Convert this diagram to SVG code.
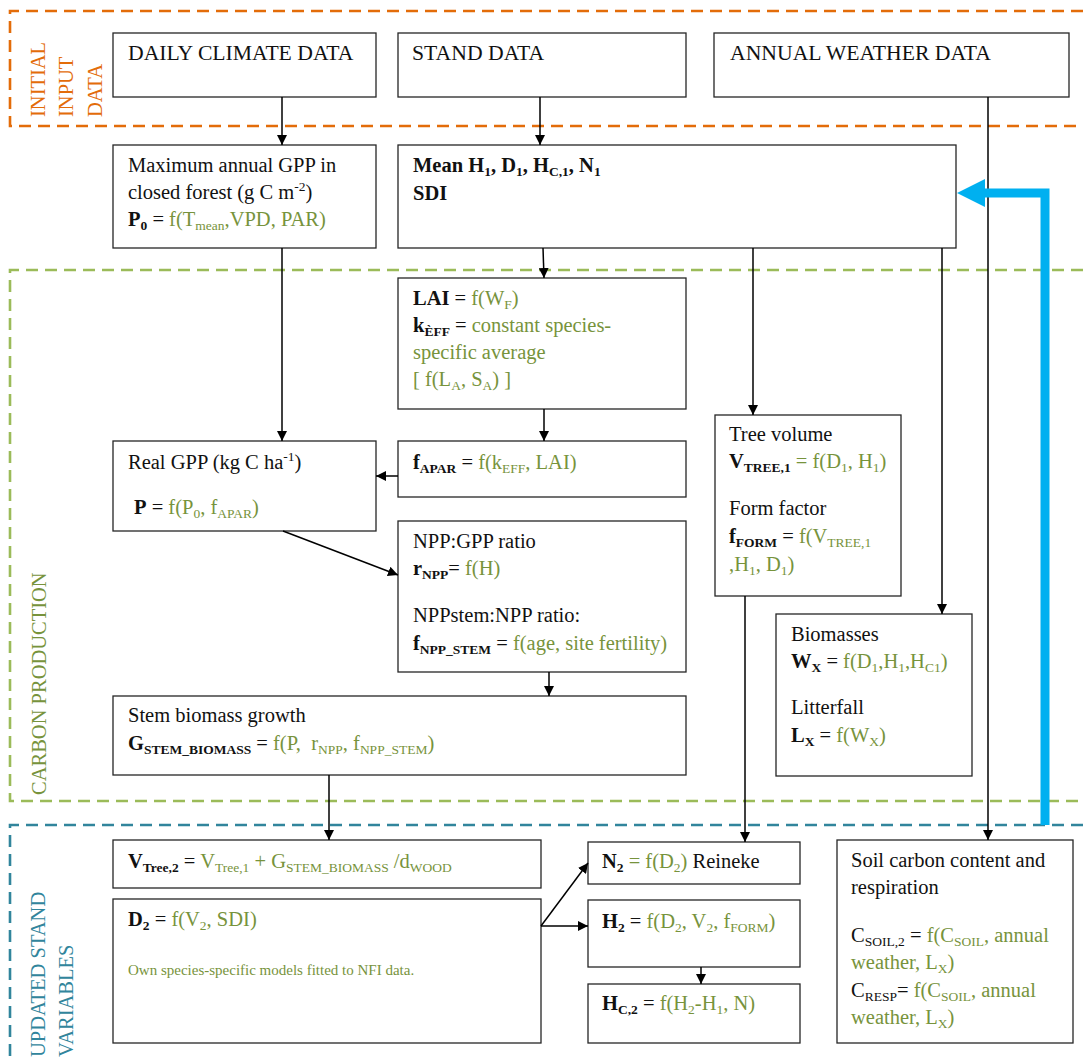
<svg xmlns="http://www.w3.org/2000/svg" width="1083" height="1063" viewBox="0 0 1083 1063">
<style>
.box{fill:#fff;stroke:#262626;stroke-width:1.3}
.t{font-family:"Liberation Serif","Times New Roman",serif;font-size:20.5px;fill:#111;white-space:pre}
.big{font-size:21.7px}
.g{fill:#77933C}
.b{font-weight:bold}
.sb{font-size:13.5px;baseline-shift:-4px}
.sp{font-size:13.5px;baseline-shift:8px}
.small{font-size:15px}
.conn{stroke:#000;stroke-width:1.5;fill:none;marker-end:url(#ah)}
.zone{fill:none;stroke-width:2.6;stroke-dasharray:12 7}
.lab{font-family:"Liberation Serif","Times New Roman",serif;font-size:20.5px}
</style>
<defs>
<marker id="ah" viewBox="0 0 10 10" refX="10" refY="5" markerWidth="10" markerHeight="10" markerUnits="userSpaceOnUse" orient="auto">
<path d="M0,0 L10,5 L0,10 z" fill="#000"/>
</marker>
</defs>
<rect width="1083" height="1063" fill="#fff"/>

<g id="zones">
<path class="zone" stroke="#E36C09" d="M1083,11 H10 V126 H1083"/>
<path class="zone" stroke="#9BBB59" d="M1083,270 H10 V801 H1083"/>
<path class="zone" stroke="#31859C" d="M1083,825 H10 V1063"/>
<g class="lab" fill="#E36C09">
<text transform="translate(45,117) rotate(-90)">INITIAL</text>
<text transform="translate(73,117) rotate(-90)">INPUT</text>
<text transform="translate(102,117) rotate(-90)">DATA</text>
</g>
<text class="lab" fill="#77933C" transform="translate(46,795) rotate(-90)">CARBON PRODUCTION</text>
<g class="lab" fill="#31859C">
<text transform="translate(45,1057) rotate(-90)">UPDATED STAND</text>
<text transform="translate(73,1057) rotate(-90)">VARIABLES</text>
</g>
</g>

<g id="daily"><rect class="box" x="113" y="33" width="263" height="64"/><text class="t big" x="128" y="60">DAILY CLIMATE DATA</text></g>
<g id="stand"><rect class="box" x="398" y="33" width="288" height="64"/><text class="t big" x="412" y="60">STAND DATA</text></g>
<g id="annual"><rect class="box" x="714" y="33" width="355" height="64"/><text class="t big" x="730" y="60">ANNUAL WEATHER DATA</text></g>

<g id="maxgpp"><rect class="box" x="113" y="145" width="263" height="103"/>
<text class="t" x="128" y="172">Maximum annual GPP in</text>
<text class="t" x="128" y="199">closed forest (g C m<tspan class="sp">-2</tspan>)</text>
<text class="t" x="128" y="226"><tspan class="b">P<tspan class="sb">0</tspan></tspan> = <tspan class="g">f(T<tspan class="sb">mean</tspan>,VPD, PAR)</tspan></text>
</g>

<g id="mean"><rect class="box" x="398" y="145" width="558" height="103"/>
<text class="t b" x="413" y="172">Mean H<tspan class="sb">1</tspan>, D<tspan class="sb">1</tspan>, H<tspan class="sb">C,1</tspan>, N<tspan class="sb">1</tspan></text>
<text class="t b" x="413" y="200">SDI</text>
</g>

<g id="lai"><rect class="box" x="398" y="278" width="288" height="131"/>
<text class="t" x="413" y="305"><tspan class="b">LAI</tspan> = <tspan class="g">f(W<tspan class="sb">F</tspan>)</tspan></text>
<text class="t" x="413" y="332"><tspan class="b">k<tspan class="sb">ÈFF</tspan></tspan> = <tspan class="g">constant species-</tspan></text>
<text class="t g" x="413" y="359">specific average</text>
<text class="t g" x="413" y="386">[ f(L<tspan class="sb">A</tspan>, S<tspan class="sb">A</tspan>) ]</text>
</g>

<g id="treevolume"><rect class="box" x="715" y="415" width="186" height="181"/>
<text class="t" x="729" y="441">Tree volume</text>
<text class="t" x="729" y="468"><tspan class="b">V<tspan class="sb">TREE,1</tspan></tspan><tspan class="g"> = f(D<tspan class="sb">1</tspan>, H<tspan class="sb">1</tspan>)</tspan></text>
<text class="t" x="729" y="515">Form factor</text>
<text class="t" x="729" y="543"><tspan class="b">f<tspan class="sb">FORM</tspan></tspan> = <tspan class="g">f(V<tspan class="sb">TREE,1</tspan></tspan></text>
<text class="t g" x="729" y="571">,H<tspan class="sb">1</tspan>, D<tspan class="sb">1</tspan>)</text>
</g>

<g id="realgpp"><rect class="box" x="113" y="441" width="263" height="90"/>
<text class="t" x="128" y="469">Real GPP (kg C ha<tspan class="sp">-1</tspan>)</text>
<text class="t" x="134" y="514"><tspan class="b">P</tspan> = <tspan class="g">f(P<tspan class="sb">0</tspan>, f<tspan class="sb">APAR</tspan>)</tspan></text>
</g>

<g id="fapar"><rect class="box" x="398" y="441" width="288" height="56"/>
<text class="t" x="413" y="469"><tspan class="b">f<tspan class="sb">APAR</tspan></tspan> = <tspan class="g">f(k<tspan class="sb">EFF</tspan>, LAI)</tspan></text>
</g>

<g id="npp"><rect class="box" x="398" y="521" width="288" height="151"/>
<text class="t" x="413" y="548">NPP:GPP ratio</text>
<text class="t" x="413" y="575"><tspan class="b">r<tspan class="sb">NPP</tspan></tspan>= <tspan class="g">f(H)</tspan></text>
<text class="t" x="413" y="622">NPPstem:NPP ratio:</text>
<text class="t" x="413" y="650"><tspan class="b">f<tspan class="sb">NPP_STEM</tspan></tspan> = <tspan class="g">f(age, site fertility)</tspan></text>
</g>

<g id="biomasses"><rect class="box" x="776" y="614" width="196" height="162"/>
<text class="t" x="791" y="641">Biomasses</text>
<text class="t" x="791" y="668"><tspan class="b">W<tspan class="sb">X</tspan></tspan> = <tspan class="g">f(D<tspan class="sb">1</tspan>,H<tspan class="sb">1</tspan>,H<tspan class="sb">C1</tspan>)</tspan></text>
<text class="t" x="791" y="714">Litterfall</text>
<text class="t" x="791" y="742"><tspan class="b">L<tspan class="sb">X</tspan></tspan> = <tspan class="g">f(W<tspan class="sb">X</tspan>)</tspan></text>
</g>

<g id="stem"><rect class="box" x="113" y="696" width="573" height="79"/>
<text class="t" x="128" y="722">Stem biomass growth</text>
<text class="t" x="128" y="750"><tspan class="b">G<tspan class="sb">STEM_BIOMASS</tspan></tspan> = <tspan class="g">f(P,  r<tspan class="sb">NPP</tspan>, f<tspan class="sb">NPP_STEM</tspan>)</tspan></text>
</g>

<g id="vtree2"><rect class="box" x="113" y="840" width="428" height="48"/>
<text class="t" x="128" y="868"><tspan class="b">V<tspan class="sb">Tree,2</tspan></tspan> = <tspan class="g">V<tspan class="sb">Tree,1</tspan> + G<tspan class="sb">STEM_BIOMASS</tspan> /d<tspan class="sb">WOOD</tspan></tspan></text>
</g>

<g id="d2"><rect class="box" x="113" y="899" width="428" height="144"/>
<text class="t" x="128" y="926"><tspan class="b">D<tspan class="sb">2</tspan></tspan> = <tspan class="g">f(V<tspan class="sb">2</tspan>, SDI)</tspan></text>
<text class="t g small" x="128" y="975">Own species-specific models fitted to NFI data.</text>
</g>

<g id="n2"><rect class="box" x="588" y="842" width="212" height="42"/>
<text class="t" x="602" y="868"><tspan class="b">N<tspan class="sb">2</tspan></tspan><tspan class="g"> = f(D<tspan class="sb">2</tspan>)</tspan> Reineke</text>
</g>

<g id="h2"><rect class="box" x="588" y="900" width="212" height="67"/>
<text class="t" x="602" y="928"><tspan class="b">H<tspan class="sb">2</tspan></tspan> = <tspan class="g">f(D<tspan class="sb">2</tspan>, V<tspan class="sb">2</tspan>, f<tspan class="sb">FORM</tspan>)</tspan></text>
</g>

<g id="hc2"><rect class="box" x="588" y="984" width="212" height="59"/>
<text class="t" x="602" y="1010"><tspan class="b">H<tspan class="sb">C,2</tspan></tspan> = <tspan class="g">f(H<tspan class="sb">2</tspan>-H<tspan class="sb">1</tspan>, N)</tspan></text>
</g>

<g id="soil"><rect class="box" x="837" y="840" width="236" height="203"/>
<text class="t" x="851" y="867">Soil carbon content and</text>
<text class="t" x="851" y="894">respiration</text>
<text class="t" x="851" y="942">C<tspan class="sb">SOIL,2</tspan> = <tspan class="g">f(C<tspan class="sb">SOIL</tspan>, annual</tspan></text>
<text class="t g" x="851" y="969">weather, L<tspan class="sb">X</tspan>)</text>
<text class="t" x="851" y="997">C<tspan class="sb">RESP</tspan>= <tspan class="g">f(C<tspan class="sb">SOIL</tspan>, annual</tspan></text>
<text class="t g" x="851" y="1024">weather, L<tspan class="sb">X</tspan>)</text>
</g>

<g id="connectors">
<line class="conn" x1="282" y1="97" x2="282" y2="145"/>
<line class="conn" x1="540" y1="97" x2="540" y2="145"/>
<line class="conn" x1="988" y1="97" x2="988" y2="840"/>
<line class="conn" x1="282" y1="248" x2="282" y2="441"/>
<line class="conn" x1="543" y1="248" x2="544" y2="278"/>
<line class="conn" x1="753" y1="248" x2="753" y2="415"/>
<line class="conn" x1="942" y1="248" x2="942" y2="614"/>
<line class="conn" x1="544" y1="409" x2="544" y2="441"/>
<line class="conn" x1="398" y1="476" x2="376" y2="476"/>
<line class="conn" x1="283" y1="531" x2="398" y2="575"/>
<line class="conn" x1="549" y1="672" x2="549" y2="696"/>
<line class="conn" x1="329" y1="775" x2="329" y2="840"/>
<line class="conn" x1="745" y1="596" x2="745" y2="842"/>
<line class="conn" x1="541" y1="926" x2="588" y2="863"/>
<line class="conn" x1="541" y1="926" x2="588" y2="926"/>
<line class="conn" x1="701" y1="967" x2="701" y2="984"/>
<path d="M1045,825 V193 H983" fill="none" stroke="#00B0F0" stroke-width="9"/>
<polygon points="957,193 985,179 985,207" fill="#00B0F0"/>
</g>
</svg>
